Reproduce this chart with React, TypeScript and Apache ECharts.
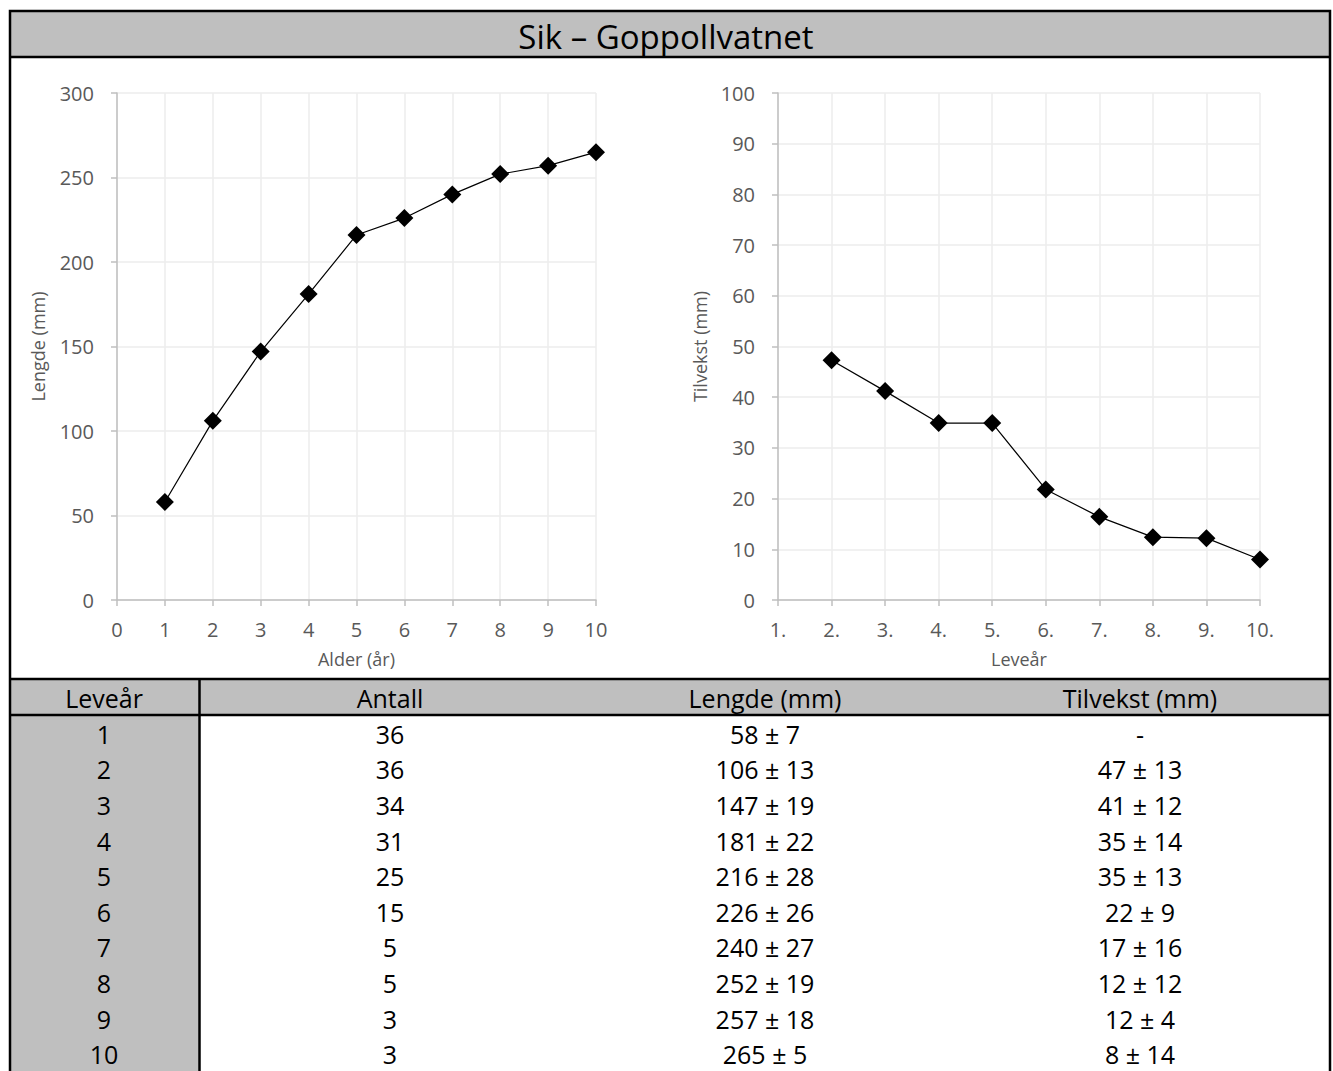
import React, { useEffect, useRef } from "react";
import * as echarts from "echarts";

const ages = [1, 2, 3, 4, 5, 6, 7, 8, 9, 10];
const lengths = [58, 106, 147, 181, 216, 226, 240, 252, 257, 265];
const growthYears = ["1.", "2.", "3.", "4.", "5.", "6.", "7.", "8.", "9.", "10."];
const growthValues = [null, 47.3, 41.2, 34.9, 34.9, 21.8, 16.4, 12.4, 12.2, 8.0];

const tableYears = ["1", "2", "3", "4", "5", "6", "7", "8", "9", "10"];
const counts = [36, 36, 34, 31, 25, 15, 5, 5, 3, 3];
const lengthMeans = [58, 106, 147, 181, 216, 226, 240, 252, 257, 265];
const lengthSds = [7, 13, 19, 22, 28, 26, 27, 19, 18, 5];
const growthMeans = [null, 47, 41, 35, 35, 22, 17, 12, 12, 8];
const growthSds = [null, 13, 12, 14, 13, 9, 16, 12, 4, 14];
const tableHeaders = ["Leveår", "Antall", "Lengde (mm)", "Tilvekst (mm)"];

const FONT = "'Open Sans', 'Noto Sans', sans-serif";
const W = 1333;
const H = 1071;

export default function App() {
  const ref = useRef<HTMLDivElement>(null);
  useEffect(() => {
    if (!ref.current) return;
    const chart = echarts.init(ref.current, undefined, { renderer: "svg", width: W, height: H });

    const axisLine = { show: true, lineStyle: { color: "#BFBFBF", width: 1.5 } };
    const axisTick = { show: true, inside: false, length: 6, lineStyle: { color: "#BFBFBF", width: 1.5 } };
    const splitLine = { show: true, lineStyle: { color: "#EDEDED", width: 1.5 } };
    const axisLabel = { color: "#595959", fontSize: 20, fontFamily: FONT };
    const nameStyle = { color: "#595959", fontSize: 18, fontFamily: FONT };

    const colCenters = [104, 390, 765, 1140];
    const headerTop = 679;
    const headerBottom = 715;
    const rowH = 35.6;

    const graphics: any[] = [];
    graphics.push({ type: "rect", shape: { x: 10, y: 11, width: 1320, height: 46 }, style: { fill: "#BFBFBF" }, z: 0 });
    graphics.push({ type: "text", style: { text: "Sik – Goppollvatnet", x: 666, y: 36, align: "center", verticalAlign: "middle", font: `33px ${FONT}`, fill: "#000" }, z: 5 });
    graphics.push({ type: "rect", shape: { x: 10, y: headerTop, width: 1320, height: headerBottom - headerTop }, style: { fill: "#BFBFBF" }, z: 0 });
    graphics.push({ type: "rect", shape: { x: 10, y: headerBottom, width: 189, height: H - headerBottom }, style: { fill: "#BFBFBF" }, z: 0 });
    const lineStyle = { stroke: "#000", lineWidth: 2.5 };
    graphics.push({ type: "line", shape: { x1: 10, y1: 57, x2: 1330, y2: 57 }, style: lineStyle, z: 6 });
    graphics.push({ type: "line", shape: { x1: 10, y1: headerTop, x2: 1330, y2: headerTop }, style: lineStyle, z: 6 });
    graphics.push({ type: "line", shape: { x1: 10, y1: headerBottom, x2: 1330, y2: headerBottom }, style: lineStyle, z: 6 });
    graphics.push({ type: "line", shape: { x1: 199.5, y1: headerTop, x2: 199.5, y2: H }, style: lineStyle, z: 6 });
    graphics.push({ type: "rect", shape: { x: 10, y: 11, width: 1320, height: H + 10 }, style: { fill: "none", stroke: "#000", lineWidth: 2.5 }, z: 7 });

    tableHeaders.forEach((h, c) => {
      graphics.push({ type: "text", style: { text: h, x: colCenters[c], y: (headerTop + headerBottom) / 2 + 1, align: "center", verticalAlign: "middle", font: `25px ${FONT}`, fill: "#000" }, z: 5 });
    });
    tableYears.forEach((yr, i) => {
      const cy = headerBottom + rowH * i + rowH / 2 + 1;
      const cells = [
        yr,
        String(counts[i]),
        `${lengthMeans[i]} ± ${lengthSds[i]}`,
        growthMeans[i] == null ? "-" : `${growthMeans[i]} ± ${growthSds[i]}`,
      ];
      cells.forEach((t, c) => {
        graphics.push({ type: "text", style: { text: t, x: colCenters[c], y: cy, align: "center", verticalAlign: "middle", font: `25px ${FONT}`, fill: "#000" }, z: 5 });
      });
    });

    chart.setOption({
      animation: false,
      backgroundColor: "#fff",
      grid: [
        { left: 117, top: 93, width: 479, height: 507, containLabel: false },
        { left: 778, top: 93, width: 482, height: 507, containLabel: false },
      ],
      xAxis: [
        {
          type: "value", gridIndex: 0, min: 0, max: 10, interval: 1,
          name: "Alder (år)", nameLocation: "middle", nameGap: 50, nameTextStyle: nameStyle,
          axisLine, axisTick, splitLine, axisLabel: { ...axisLabel, margin: 19 },
        },
        {
          type: "category", gridIndex: 1, data: growthYears, boundaryGap: false,
          name: "Leveår", nameLocation: "middle", nameGap: 50, nameTextStyle: nameStyle,
          axisLine, axisTick: { ...axisTick, alignWithLabel: true }, splitLine, axisLabel: { ...axisLabel, margin: 19, interval: 0 },
        },
      ],
      yAxis: [
        {
          type: "value", gridIndex: 0, min: 0, max: 300, interval: 50,
          name: "Lengde (mm)", nameLocation: "middle", nameGap: 70, nameRotate: 90, nameTextStyle: nameStyle,
          axisLine, axisTick, splitLine, axisLabel: { ...axisLabel, margin: 23 },
        },
        {
          type: "value", gridIndex: 1, min: 0, max: 100, interval: 10,
          name: "Tilvekst (mm)", nameLocation: "middle", nameGap: 69, nameRotate: 90, nameTextStyle: nameStyle,
          axisLine, axisTick, splitLine, axisLabel: { ...axisLabel, margin: 23 },
        },
      ],
      series: [
        {
          type: "line", xAxisIndex: 0, yAxisIndex: 0,
          data: ages.map((a, i) => [a, lengths[i]]),
          symbol: "diamond", symbolSize: 18,
          lineStyle: { color: "#000", width: 1.2 }, itemStyle: { color: "#000" },
        },
        {
          type: "line", xAxisIndex: 1, yAxisIndex: 1,
          data: growthValues,
          symbol: "diamond", symbolSize: 18, connectNulls: false,
          lineStyle: { color: "#000", width: 1.2 }, itemStyle: { color: "#000" },
        },
      ],
      graphic: graphics,
    });
    return () => chart.dispose();
  }, []);
  return <div ref={ref} style={{ position: "absolute", left: 0, top: 0, width: W, height: H }} />;
}
